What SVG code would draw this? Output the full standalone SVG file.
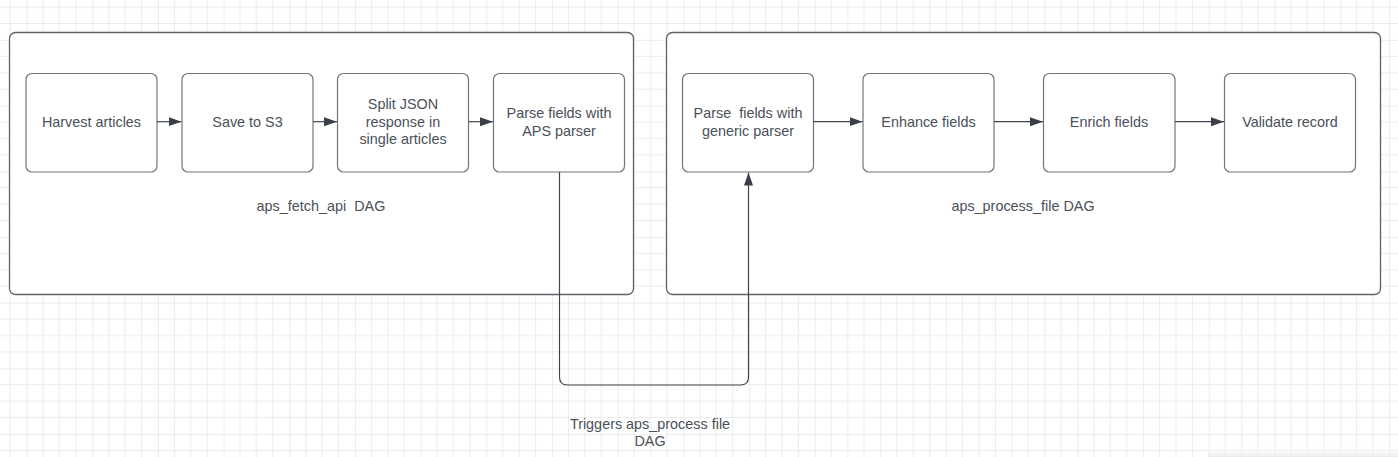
<svg xmlns="http://www.w3.org/2000/svg" width="1398" height="457" viewBox="0 0 1398 457">
<style>
.frame{fill:#ffffff;stroke:#5f6268;stroke-width:1.3}
.box{fill:#ffffff;stroke:#72767c;stroke-width:1.2}
.lbl{font-family:"Liberation Sans",Arial,sans-serif;font-size:14.4px;fill:#4a5059;text-anchor:middle;white-space:pre}
.conn{fill:none;stroke:#40454d;stroke-width:1.2}
</style>
<defs>
<pattern id="grid" patternUnits="userSpaceOnUse" x="26.6" y="39.9" width="65.68" height="65.68">
<path d="M16.42 0V65.68M32.84 0V65.68M49.26 0V65.68M0 16.42H65.68M0 32.84H65.68M0 49.26H65.68" stroke="#ececec" stroke-width="1" fill="none"/>
<path d="M0 0V65.68M0 0H65.68" stroke="#dcdcdc" stroke-width="1" fill="none"/>
</pattern>
<linearGradient id="shade" x1="0" y1="0" x2="0" y2="1">
<stop offset="0" stop-color="#ffffff" stop-opacity="0"/>
<stop offset="1" stop-color="#e8e8e8" stop-opacity="0.9"/>
</linearGradient>
<marker id="ah" markerWidth="14" markerHeight="10" refX="13" refY="5" orient="auto" markerUnits="userSpaceOnUse">
<path d="M0 0.5L13 5L0 9.5Z" fill="#3a3f47"/>
</marker>
</defs>
<rect width="1398" height="457" fill="#ffffff"/>
<rect width="1398" height="457" fill="url(#grid)"/>
<rect x="1208" y="446" width="190" height="11" fill="url(#shade)"/>

<g id="frame-fetch">
<rect class="frame" x="9.5" y="32.5" width="624" height="262" rx="6"/>
<text class="lbl" x="321" y="211">aps_fetch_api  DAG</text>
</g>
<g id="frame-process">
<rect class="frame" x="666.5" y="32.5" width="714" height="262" rx="6"/>
<text class="lbl" x="1023" y="211">aps_process_file DAG</text>
</g>

<g id="harvest">
<rect class="box" x="26" y="73.5" width="131" height="98.5" rx="6"/>
<text class="lbl" x="91.5" y="126.5">Harvest articles</text>
</g>
<g id="save-s3">
<rect class="box" x="182" y="73.5" width="131" height="98.5" rx="6"/>
<text class="lbl" x="247.5" y="126.5">Save to S3</text>
</g>
<g id="split-json">
<rect class="box" x="337.5" y="73.5" width="131" height="98.5" rx="6"/>
<text class="lbl" x="403" y="108.5">Split JSON</text>
<text class="lbl" x="403" y="126.5">response in</text>
<text class="lbl" x="403" y="144">single articles</text>
</g>
<g id="parse-aps">
<rect class="box" x="493.5" y="73.5" width="131" height="98.5" rx="6"/>
<text class="lbl" x="559" y="117.5">Parse fields with</text>
<text class="lbl" x="559" y="135.5">APS parser</text>
</g>

<g id="parse-generic">
<rect class="box" x="682.5" y="73.5" width="131" height="98.5" rx="6"/>
<text class="lbl" x="748" y="117.5">Parse  fields with</text>
<text class="lbl" x="748" y="135.5">generic parser</text>
</g>
<g id="enhance">
<rect class="box" x="863" y="73.5" width="131" height="98.5" rx="6"/>
<text class="lbl" x="928.5" y="126.5">Enhance fields</text>
</g>
<g id="enrich">
<rect class="box" x="1043.5" y="73.5" width="131.5" height="98.5" rx="6"/>
<text class="lbl" x="1109" y="126.5">Enrich fields</text>
</g>
<g id="validate">
<rect class="box" x="1224.5" y="73.5" width="131" height="98.5" rx="6"/>
<text class="lbl" x="1290" y="126.5">Validate record</text>
</g>

<g id="connectors">
<path class="conn" d="M157 121.7H181.5" marker-end="url(#ah)"/>
<path class="conn" d="M313 121.7H337" marker-end="url(#ah)"/>
<path class="conn" d="M468.5 121.7H493" marker-end="url(#ah)"/>
<path class="conn" d="M813.5 121.7H862.5" marker-end="url(#ah)"/>
<path class="conn" d="M994 121.7H1043" marker-end="url(#ah)"/>
<path class="conn" d="M1175 121.7H1224" marker-end="url(#ah)"/>
<path class="conn" d="M559.5 172V377Q559.5 385 567.5 385H740.5Q748.5 385 748.5 377V172.5" marker-end="url(#ah)"/>
<text class="lbl" x="650" y="429">Triggers aps_process file</text>
<text class="lbl" x="650" y="446">DAG</text>
</g>
</svg>
